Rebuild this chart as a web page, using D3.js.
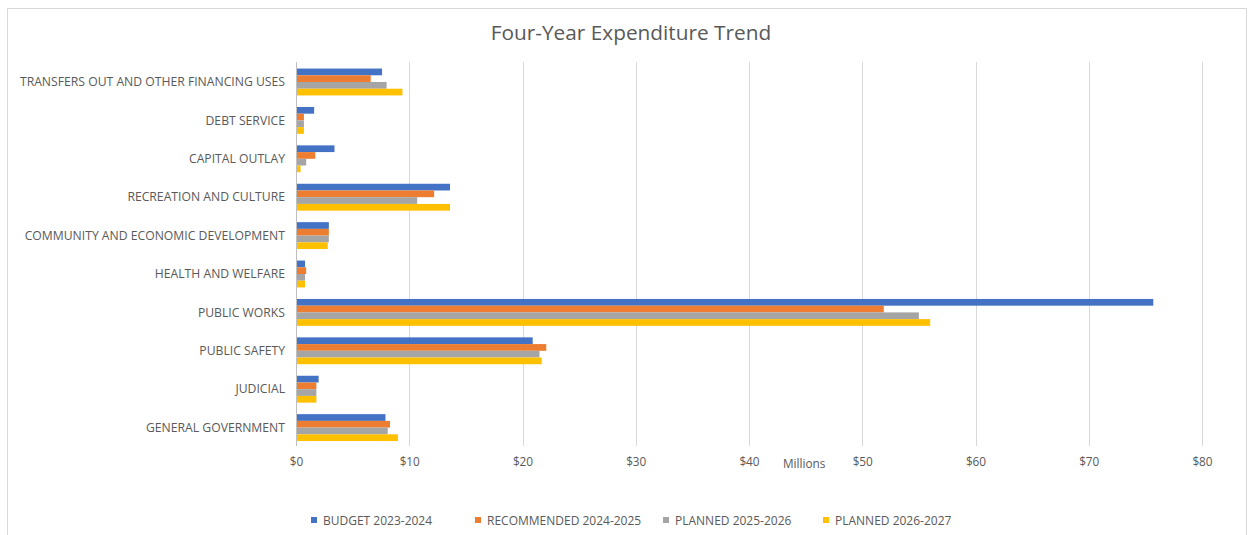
<!DOCTYPE html>
<html>
<head>
<meta charset="utf-8">
<script src="https://cdn.jsdelivr.net/npm/d3@7/dist/d3.min.js"></script>
<style>
  html, body { margin: 0; padding: 0; background: #fff; }
  svg { display: block; font-family: "Open Sans", "DejaVu Sans", sans-serif; }
</style>
</head>
<body>
<svg id="chart" width="1250" height="535"></svg>
<script>
// Expenditure categories, top to bottom
const categories = [
  "TRANSFERS OUT AND OTHER FINANCING USES",
  "DEBT SERVICE",
  "CAPITAL OUTLAY",
  "RECREATION AND CULTURE",
  "COMMUNITY AND ECONOMIC DEVELOPMENT",
  "HEALTH AND WELFARE",
  "PUBLIC WORKS",
  "PUBLIC SAFETY",
  "JUDICIAL",
  "GENERAL GOVERNMENT"
];

// Series names
const seriesNames = [
  "BUDGET 2023-2024",
  "RECOMMENDED 2024-2025",
  "PLANNED 2025-2026",
  "PLANNED 2026-2027"
];

// Values in millions of dollars, one array per series (same order as categories)
const budget2324      = [7.6, 1.6, 3.4, 13.6, 2.9, 0.8, 75.7, 20.9, 2.0, 7.9];
const recommended2425 = [6.6, 0.7, 1.7, 12.2, 2.9, 0.9, 51.9, 22.1, 1.8, 8.3];
const planned2526     = [8.0, 0.7, 0.9, 10.7, 2.9, 0.8, 55.0, 21.5, 1.8, 8.1];
const planned2627     = [9.4, 0.7, 0.4, 13.6, 2.8, 0.8, 56.0, 21.7, 1.8, 9.0];

const seriesValues = [budget2324, recommended2425, planned2526, planned2627];
const seriesColors = ["#4472C4", "#ED7D31", "#A5A5A5", "#FFC000"];

// Axis ticks (millions)
const xTicks = [0, 10, 20, 30, 40, 50, 60, 70, 80];
const xTickLabels = ["$0", "$10", "$20", "$30", "$40", "$50", "$60", "$70", "$80"];

const svg = d3.select("#chart");
const textColor = "#595959";

// Outer chart border
svg.append("rect")
  .attr("x", 7.5).attr("y", 8.5)
  .attr("width", 1239).attr("height", 540)
  .attr("fill", "#fff")
  .attr("stroke", "#d9d9d9").attr("stroke-width", 1);

// Title
svg.append("text")
  .attr("x", 631).attr("y", 40)
  .attr("text-anchor", "middle")
  .attr("font-size", 20.8)
  .attr("fill", textColor)
  .text("Four-Year Expenditure Trend");

const plot = { left: 296, right: 1202, top: 62, bottom: 446 };

const x = d3.scaleLinear().domain([0, 80]).range([plot.left, plot.right]);
const y = d3.scaleBand().domain(categories).range([plot.top, plot.bottom])
  .paddingInner(0.3).paddingOuter(0.15);
const ySub = d3.scaleBand().domain(d3.range(seriesNames.length))
  .range([0, y.bandwidth()]);

// Vertical gridlines
svg.append("g")
  .selectAll("line")
  .data(xTicks)
  .join("line")
  .attr("x1", d => Math.round(x(d)) + 0.5)
  .attr("x2", d => Math.round(x(d)) + 0.5)
  .attr("y1", plot.top).attr("y2", plot.bottom)
  .attr("stroke", "#d9d9d9").attr("stroke-width", 1);

// Bars
const groups = svg.append("g")
  .selectAll("g")
  .data(categories)
  .join("g")
  .attr("transform", d => `translate(0,${y(d) + 0.8})`);

groups.selectAll("rect")
  .data((d, i) => seriesValues.map((vals, s) => ({ s, v: vals[i] })))
  .join("rect")
  .attr("x", x(0))
  .attr("y", d => ySub(d.s))
  .attr("width", d => x(d.v) - x(0))
  .attr("height", ySub.bandwidth())
  .attr("fill", d => seriesColors[d.s]);

// Category axis line
svg.append("line")
  .attr("x1", plot.left + 0.5).attr("x2", plot.left + 0.5)
  .attr("y1", plot.top).attr("y2", plot.bottom)
  .attr("stroke", "#bfbfbf").attr("stroke-width", 1);

// Category labels
svg.append("g")
  .selectAll("text")
  .data(categories)
  .join("text")
  .attr("x", 285)
  .attr("y", d => y(d) + y.bandwidth() / 2 + 5)
  .attr("text-anchor", "end")
  .attr("font-size", 12.2)
  .attr("fill", textColor)
  .text(d => d);

// Value axis tick labels
const xAxis = d3.axisBottom(x)
  .tickValues(xTicks)
  .tickFormat((d, i) => xTickLabels[i])
  .tickSize(0)
  .tickPadding(12);

const xg = svg.append("g")
  .attr("transform", `translate(0,${plot.bottom})`)
  .call(xAxis);
xg.select(".domain").remove();
xg.selectAll("text")
  .attr("font-size", 11.8)
  .attr("font-family", "\"Open Sans\", \"DejaVu Sans\", sans-serif")
  .attr("fill", textColor);

// Display units label
svg.append("text")
  .attr("x", 783).attr("y", 468)
  .attr("font-size", 11.8)
  .attr("fill", textColor)
  .text("Millions");

// Legend
const legendX = [311, 475, 663, 823];
const legend = svg.append("g")
  .selectAll("g")
  .data(seriesNames)
  .join("g")
  .attr("transform", (d, i) => `translate(${legendX[i]},520)`);

legend.append("rect")
  .attr("x", 0).attr("y", -3)
  .attr("width", 6).attr("height", 6)
  .attr("fill", (d, i) => seriesColors[i]);

legend.append("text")
  .attr("x", 12).attr("y", 4.5)
  .attr("font-size", 12)
  .attr("fill", textColor)
  .text(d => d);
</script>
</body>
</html>
